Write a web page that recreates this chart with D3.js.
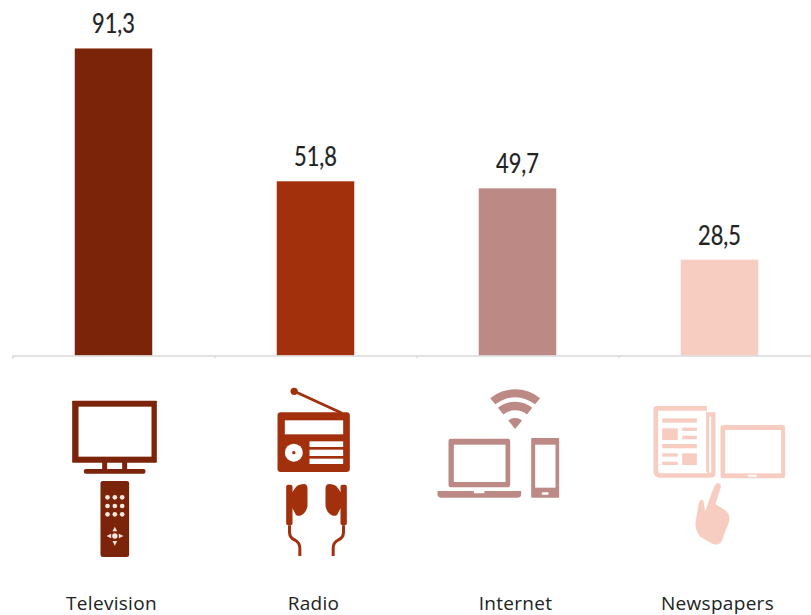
<!DOCTYPE html>
<html>
<head>
<meta charset="utf-8">
<script src="https://cdn.jsdelivr.net/npm/d3@7"></script>
<style>
  html, body { margin: 0; padding: 0; background: #fff; }
  svg { display: block; }
</style>
</head>
<body>
<div class="chart"></div>
<script>
var categories = ["Television", "Radio", "Internet", "Newspapers"];
var values = [91.3, 51.8, 49.7, 28.5];
var valueLabels = ["91,3", "51,8", "49,7", "28,5"];
var colors = ["#7b2409", "#a3300d", "#bc8985", "#f7cdc2"];

var width = 811, height = 615;
var baseline = 355.5;

var svg = d3.select(".chart").append("svg")
  .attr("width", width)
  .attr("height", height);

var x = d3.scaleBand()
  .domain(categories)
  .range([12.5, 820.5])
  .paddingInner(0)
  .paddingOuter(0);

var y = d3.scaleLinear()
  .domain([0, 100])
  .range([baseline, baseline - 336.3]);

var barWidth = 77.5;
function center(d) { return x(d) + x.bandwidth() / 2; }

// bars
svg.selectAll("rect.bar")
  .data(categories)
  .enter().append("rect")
    .attr("class", "bar")
    .attr("x", function (d) { return center(d) - barWidth / 2; })
    .attr("width", barWidth)
    .attr("y", function (d, i) { return y(values[i]); })
    .attr("height", function (d, i) { return y(0) - y(values[i]); })
    .attr("fill", function (d, i) { return colors[i]; });

// axis, ticks sit on the band edges
var edges = d3.scaleLinear().domain([0, 4]).range(x.range());
var axis = svg.append("g")
  .attr("transform", "translate(0," + baseline + ")")
  .call(d3.axisBottom(edges).tickValues([0, 1, 2, 3, 4]).tickSize(3).tickFormat(""));
axis.selectAll("path, line").attr("stroke", "#d9d9d9").attr("stroke-width", 1.3);

// value labels
svg.selectAll("text.value")
  .data(categories)
  .enter().append("text")
    .attr("class", "value")
    .attr("x", center)
    .attr("y", function (d, i) { return y(values[i]) - 15; })
    .attr("text-anchor", "middle")
    .attr("font-family", "Lato")
    .attr("font-size", 26)
    .attr("textLength", 43)
    .attr("lengthAdjust", "spacingAndGlyphs")
    .attr("fill", "#222")
    .attr("stroke", "#222")
    .attr("stroke-width", 0.2)
    .text(function (d, i) { return valueLabels[i]; });

// category labels
svg.selectAll("text.cat")
  .data(categories)
  .enter().append("text")
    .attr("class", "cat")
    .attr("x", function (d) { return center(d) - 2; })
    .attr("y", 610)
    .attr("text-anchor", "middle")
    .attr("font-family", "Open Sans")
    .attr("font-size", 19)
    .attr("letter-spacing", 0.3)
    .attr("fill", "#222")
    .text(function (d) { return d; });

// icons, drawn in 3x units around a local centre
function icon(cat, cx) {
  var g = svg.append("g")
    .attr("transform", "translate(" + center(cat) + ",380) scale(0.3333) translate(" + (-cx) + ",0)");
  return g;
}
function box(g, x0, x1, y0, y1, fill, r) {
  return g.append("rect").attr("x", x0).attr("y", y0)
    .attr("width", x1 - x0).attr("height", y1 - y0)
    .attr("rx", r || 0).attr("fill", fill);
}

// Television
var tv = icon("Television", 222), c = colors[0];
box(tv, 98, 352, 62, 248, c, 2);
box(tv, 117, 336, 80, 230, "#fff");
box(tv, 188, 203, 246, 268, c);
box(tv, 248, 263, 246, 268, c);
box(tv, 133, 318, 267, 281, c, 6);
box(tv, 183, 269, 303, 531, c, 7);
[204, 226, 248].forEach(function (px) {
  [352, 378, 403].forEach(function (py) {
    tv.append("circle").attr("cx", px).attr("cy", py).attr("r", 7).attr("fill", "#f9e6df");
  });
});
tv.append("circle").attr("cx", 226).attr("cy", 468).attr("r", 8).attr("fill", "#f9e6df");
tv.append("path").attr("fill", "#f9e6df")
  .attr("d", "M226,440L233,454H219ZM226,497L233,483H219ZM201,468L215,461V475ZM252,468L238,461V475Z");

// Radio
var radio = icon("Radio", 828);
c = colors[1];
radio.append("circle").attr("cx", 764).attr("cy", 34).attr("r", 11).attr("fill", c);
radio.append("line").attr("x1", 764).attr("y1", 34).attr("x2", 908).attr("y2", 100)
  .attr("stroke", c).attr("stroke-width", 8);
box(radio, 714, 931, 97, 276, c, 10);
box(radio, 736, 911, 121, 163, "#fff");
radio.append("circle").attr("cx", 763).attr("cy", 218).attr("r", 27).attr("fill", "#fff");
radio.append("circle").attr("cx", 763).attr("cy", 218).attr("r", 5).attr("fill", c);
box(radio, 810, 911, 184, 201, "#fff");
box(radio, 810, 911, 209, 228, "#fff");
box(radio, 810, 911, 236, 252, "#fff");
[0, 1].forEach(function (flip) {
  var e = radio.append("g");
  if (flip) e.attr("transform", "translate(1662,0) scale(-1,1)");
  box(e, 740, 759, 314, 436, c, 6);
  e.append("path").attr("fill", c)
    .attr("d", "M757,338L770,320Q778,312 795,312Q804,314 804,325V378Q800,400 782,407Q770,410 766,398L757,382Z");
  e.append("path").attr("fill", "none").attr("stroke", c).attr("stroke-width", 9)
    .attr("d", "M750,436V458Q751,474 766,480Q781,488 781,505V528");
});

// Internet
var net = icon("Internet", 294);
c = colors[2];
var arc = d3.arc().startAngle(-0.68).endAngle(0.68);
[[95, 119], [56, 82], [0, 33]].forEach(function (r) {
  net.append("path").attr("transform", "translate(287,147)")
    .attr("fill", c)
    .attr("d", arc({ innerRadius: r[0], outerRadius: r[1] }));
});
box(net, 87, 272, 176, 322, c, 7);
box(net, 103, 258, 194, 306, "#fff");
net.append("path").attr("fill", c)
  .attr("d", "M54,333H305V343Q305,353 295,353H64Q54,353 54,343Z");
box(net, 163, 195, 333, 340, "#fff", 2);
box(net, 335, 419, 174, 353, c, 3);
box(net, 347, 408, 194, 323, "#fff");
box(net, 367, 387, 337, 344, "#fff", 1);

// Newspapers
var news = icon("Newspapers", 900);
c = colors[3];
news.append("path").attr("fill", c)
  .attr("d", "M702,88Q702,78 712,78H862V97H888V278Q888,293 873,293H722Q702,293 702,273Z");
news.append("path").attr("fill", "#fff")
  .attr("d", "M716,92H860V270Q860,280 868,280H722Q716,280 716,272Z");
box(news, 869, 875, 110, 278, "#fff");
box(news, 728, 832, 115, 128, c);
box(news, 728, 775, 145, 180, c);
box(news, 788, 832, 143, 153, c);
box(news, 788, 832, 167, 178, c);
box(news, 728, 832, 192, 205, c);
box(news, 728, 775, 220, 230, c);
box(news, 728, 775, 245, 255, c);
box(news, 788, 832, 220, 255, c);
box(news, 903, 1097, 135, 295, c, 8);
box(news, 917, 1085, 150, 280, "#fff");
box(news, 985, 1012, 284, 290, "#fff", 1);
news.append("path").attr("fill", c)
  .attr("d", "M893,310Q905,308 904,322L888,372L920,393Q933,405 929,425L905,487Q895,498 880,492L842,470Q826,452 828,425L838,368Q843,355 852,362L857,395L868,362L884,320Q887,311 893,310Z");
</script>
</body>
</html>
